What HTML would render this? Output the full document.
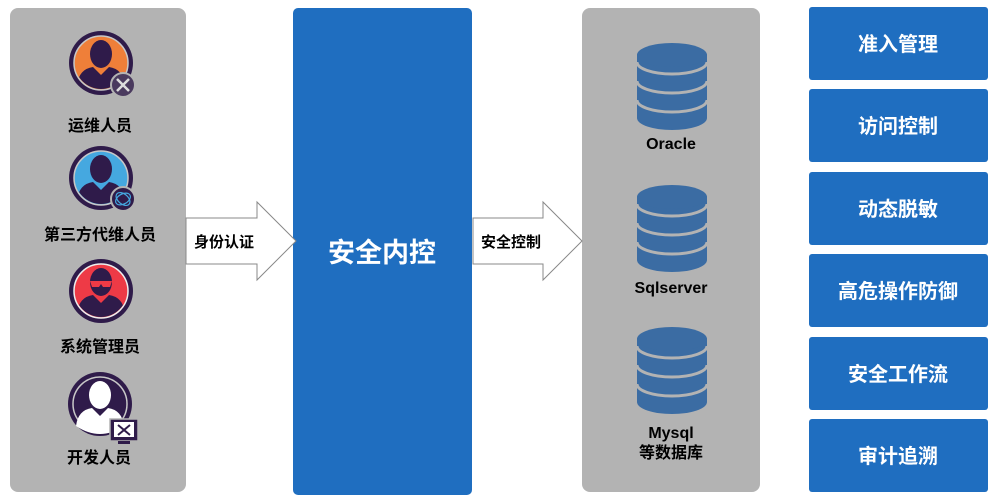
<!DOCTYPE html>
<html><head><meta charset="utf-8"><style>
body{margin:0;background:#fff}
svg{display:block}
text{font-family:"Liberation Sans","Noto Sans CJK SC",sans-serif;font-weight:bold}
</style></head><body>
<svg width="1000" height="502" viewBox="0 0 1000 502" xmlns="http://www.w3.org/2000/svg">
<defs>
<g id="db">
<path d="M-35,0 L-35,63 A35,12 0 0 0 35,63 L35,0 Z" fill="#3b6ca3"/>
<ellipse cx="0" cy="0" rx="35" ry="12" fill="#3b6ca3"/>
<path d="M-35,7 A35,12 0 0 0 35,7" fill="none" stroke="#b3b3b3" stroke-width="3"/>
<path d="M-35,26 A35,12 0 0 0 35,26" fill="none" stroke="#b3b3b3" stroke-width="3"/>
<path d="M-35,45 A35,12 0 0 0 35,45" fill="none" stroke="#b3b3b3" stroke-width="3"/>
</g>
<g id="person">
<ellipse cx="0" cy="-9" rx="11" ry="14" fill="#2f1b4a"/>
<path d="M-24,22 Q-22,6 -8,4 L0,12 L8,4 Q22,6 24,22 Q12,30 0,30 Q-12,30 -24,22 Z" fill="#2f1b4a"/>
</g>
</defs>
<rect x="10" y="8" width="176" height="484" rx="8" fill="#b3b3b3"/>
<rect x="293" y="8" width="179" height="487" rx="5" fill="#1f6ec0"/>
<rect x="582" y="8" width="178" height="484" rx="8" fill="#b3b3b3"/>

<!-- icon 1 -->
<circle cx="101" cy="63" r="32" fill="#2f1b4a"/>
<circle cx="101" cy="63" r="27" fill="#ef7f39" stroke="#c8c8c8" stroke-width="1.5"/>
<g transform="translate(101,63)"><clipPath id="c1"><circle r="26"/></clipPath><use href="#person" clip-path="url(#c1)"/></g>
<circle cx="123" cy="85" r="12" fill="#4a3a5e" stroke="#b3b3b3" stroke-width="2"/>
<path d="M117,79 L129,91 M129,79 L117,91" stroke="#ddd" stroke-width="2.5"/>
<text x="100" y="131" font-size="16" text-anchor="middle">运维人员</text>

<!-- icon 2 -->
<circle cx="101" cy="178" r="32" fill="#2f1b4a"/>
<circle cx="101" cy="178" r="27" fill="#45a8e0" stroke="#c8c8c8" stroke-width="1.5"/>
<g transform="translate(101,178)"><clipPath id="c2"><circle r="26"/></clipPath><use href="#person" clip-path="url(#c2)"/></g>
<circle cx="123" cy="199" r="12" fill="#2f1b4a" stroke="#b3b3b3" stroke-width="2"/>
<ellipse cx="123" cy="199" rx="8" ry="5" fill="none" stroke="#45a8e0" stroke-width="1.2" transform="rotate(-30 123 199)"/>
<ellipse cx="123" cy="199" rx="8" ry="5" fill="none" stroke="#45a8e0" stroke-width="1.2" transform="rotate(40 123 199)"/>
<text x="100" y="240" font-size="16" text-anchor="middle">第三方代维人员</text>

<!-- icon 3 -->
<circle cx="101" cy="291" r="32" fill="#2f1b4a"/>
<circle cx="101" cy="291" r="27" fill="#ee3a46" stroke="#eee" stroke-width="1.5"/>
<g transform="translate(101,291)"><clipPath id="c3"><circle r="26"/></clipPath><use href="#person" clip-path="url(#c3)"/></g>
<path d="M90,281 L112,281 L110,287 L103,287 L101,284 L99,287 L92,287 Z" fill="#ee3a46"/>
<text x="100" y="352" font-size="16" text-anchor="middle">系统管理员</text>

<!-- icon 4 -->
<circle cx="100" cy="404" r="32" fill="#2f1b4a"/>
<circle cx="100" cy="404" r="27" fill="#2f1b4a" stroke="#c8c8c8" stroke-width="1.5"/>
<g transform="translate(100,404)">
<ellipse cx="0" cy="-9" rx="11" ry="14" fill="#fff"/>
<path d="M-24,22 Q-22,6 -8,4 L0,12 L8,4 Q22,6 24,22 Q12,30 0,30 Q-12,30 -24,22 Z" fill="#fff"/>
</g>
<rect x="110" y="419" width="28" height="22" fill="#2f1b4a" stroke="#b3b3b3" stroke-width="1.5"/>
<rect x="114" y="422" width="20" height="15" fill="#fff"/>
<path d="M118,425 L130,435 M130,425 L118,435" stroke="#2f1b4a" stroke-width="2"/>
<rect x="118" y="441" width="12" height="3" fill="#2f1b4a"/>
<text x="99" y="463" font-size="16" text-anchor="middle">开发人员</text>

<!-- arrows -->
<path d="M186,218 L257,218 L257,202 L296,241 L257,280 L257,264 L186,264 Z" fill="#fff" stroke="#888" stroke-width="1"/>
<text x="194" y="247" font-size="15">身份认证</text>
<path d="M473,218 L543,218 L543,202 L582,241 L543,280 L543,264 L473,264 Z" fill="#fff" stroke="#888" stroke-width="1"/>
<text x="481" y="247" font-size="15">安全控制</text>

<text x="382" y="262" font-size="27" fill="#fff" text-anchor="middle">安全内控</text>

<!-- dbs -->
<use href="#db" x="672" y="55"/>
<text x="671" y="149" font-size="16" text-anchor="middle">Oracle</text>
<use href="#db" x="672" y="197"/>
<text x="671" y="293" font-size="16" text-anchor="middle">Sqlserver</text>
<use href="#db" x="672" y="339"/>
<text x="671" y="438" font-size="16" text-anchor="middle">Mysql</text>
<text x="671" y="458" font-size="16" text-anchor="middle">等数据库</text>

<!-- right boxes -->
<g fill="#1f6ec0">
<rect x="809" y="7" width="179" height="73" rx="3"/>
<rect x="809" y="89" width="179" height="73" rx="3"/>
<rect x="809" y="172" width="179" height="73" rx="3"/>
<rect x="809" y="254" width="179" height="73" rx="3"/>
<rect x="809" y="337" width="179" height="73" rx="3"/>
<rect x="809" y="419" width="179" height="73" rx="3"/>
</g>
<g fill="#fff" font-size="20" text-anchor="middle">
<text x="898" y="51">准入管理</text>
<text x="898" y="133">访问控制</text>
<text x="898" y="216">动态脱敏</text>
<text x="898" y="298">高危操作防御</text>
<text x="898" y="381">安全工作流</text>
<text x="898" y="463">审计追溯</text>
</g>
</svg>
</body></html>
